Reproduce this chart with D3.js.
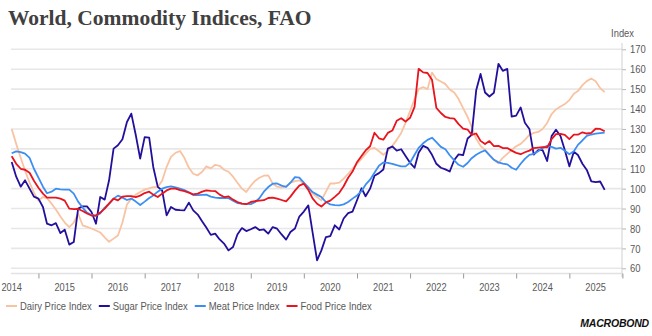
<!DOCTYPE html>
<html>
<head>
<meta charset="utf-8">
<script src="https://cdn.jsdelivr.net/npm/d3@7"></script>
<style>
  body { margin: 0; background: #fff; }
  svg { display: block; }
  .lbl { font-family: "Liberation Sans", sans-serif; fill: #595959; }
</style>
</head>
<body>
<svg id="chart" width="652" height="336"></svg>
<script>

// monthly index values, Jul 2014 .. Sep 2025 (2014-2016 = 100)
const dairy = [
  130, 122.5, 115.5, 109, 103, 98,
  94, 95.8, 95.2, 92.5, 89.5, 86, 83, 80.7, 83, 87.4, 81.6, 80.8,
  80, 79, 78, 75.5, 73.3, 74.9, 76.5, 83, 92, 95, 97, 98.3,
  99.5, 100.2, 100.8, 100.8, 104, 111, 116, 118, 118.9, 115.5, 110.5, 107.5,
  106.7, 108.5, 111.2, 110.2, 112, 111.5, 109.5, 108.5, 106, 103, 100, 98.3,
  101.5, 104, 105.5, 106.5, 106.7, 102.5, 101, 100.5, 101.2, 103, 103.8, 104.2,
  102.5, 101, 97.5, 95.8, 94.1, 98.5, 102.6, 102.6, 103, 105, 107.5, 110,
  112.6, 115, 117.5, 120, 120.5, 118.8, 117, 119, 121.5, 124.5, 128, 133,
  139, 145, 150, 151, 150, 158.3, 155, 153.8, 152.5, 149.8, 148.3, 145,
  140.5, 136, 131, 125, 121.5, 119.5, 117, 114.5, 112.8, 115.5, 117.5, 119.5,
  121.3, 122.5, 124.5, 127, 128, 128.5, 130, 133, 137.5, 139.8, 141.3, 142.5,
  144.5, 147.7, 149, 152, 154, 155.3, 154, 150.5, 148.5
];

const sugar = [
  113.4, 106, 101, 104.2, 100, 96,
  95, 90.8, 82.4, 81.6, 82.7, 77.7, 79.4, 71.9, 73.2, 90, 91.1, 91.1,
  88.3, 82.4, 95.8, 94.5, 104.2, 120.1, 121.8, 124.8, 133.5, 137.7, 126.8, 115.1,
  125.9, 125.6, 110.9, 100.9, 99.1, 86.6, 90.8, 89.4, 89.2, 89.1, 93, 89.1,
  87, 83.5, 80.5, 76.8, 77.4, 74.5, 72.4, 69, 70.7, 77, 80.2, 78.7,
  79.6, 80.7, 79.2, 79.5, 77.4, 80.7, 79.9, 77, 74.4, 78.2, 80, 86,
  88.5, 91.6, 78.2, 64, 69, 75.7, 76.2, 81.6, 79.5, 85, 87.7, 88.5,
  94.2, 100.2, 96.2, 100, 106.5, 107.8, 109.6, 120.1, 121.2, 119.1, 119.8, 116.4,
  113, 110.5, 118, 121.5, 120.5, 117, 112.5, 110.5, 109.7, 108.6, 114.4, 117.2,
  116.8, 125.2, 127, 149.4, 157.6, 148.3, 146.3, 148.2, 162.7, 159.2, 160.2, 136.2,
  136.7, 140.8, 133.1, 130, 117.1, 119.4, 119.4, 113.9, 126.4, 129.6, 126.4, 119.3,
  111.2, 118.5, 116.9, 112.5, 109.4, 103.7, 103.3, 103.6, 99.4
];

const meat = [
  117.8, 118.7, 118.3, 117.6, 115.5, 110,
  105.5, 101, 97.7, 98.5, 100, 99.6, 99.5, 99.5, 97.5, 93.5, 90.5, 88,
  86.8, 86.4, 87.5, 90.5, 92.5, 95, 96.5, 95.5, 94.3, 95, 93.5, 91.8,
  93.5, 95.3, 96.6, 98.5, 100, 100.8, 101.2, 100.6, 100, 99.3, 98.2, 96.8,
  96.8, 96.9, 97, 96, 95.5, 95.3, 95.3, 95.2, 94, 92.8, 92.5, 92.4,
  92.2, 93.3, 95.2, 98.5, 100.8, 102.5, 102.6, 101.5, 100.9, 103, 105.8, 105.5,
  103, 100.5, 98.3, 97, 95.8, 93.3, 92.1, 91.7, 91.6, 92.1, 93.3, 95,
  96.6, 98.8, 102, 104.5, 108, 111.5, 113.2, 113, 112.5, 111.8, 111.2, 111.2,
  113, 117, 120.5, 122.8, 124.5, 125.6, 123.4, 121, 119.8, 116.8, 114.2, 112,
  111, 112.9, 115.3, 117, 118.3, 119.2, 116.8, 114.5, 113.2, 112.6, 112.2, 110.5,
  109.5, 112.5, 115, 117, 117.5, 118.8, 120.5, 121.5, 121, 120.1, 120.5, 119,
  117.3, 118.8, 122, 124.3, 126.5, 127.2, 127.6, 127.9, 128.2
];

const food = [
  116.3, 112.5, 110, 109.5, 108, 104,
  100.5, 97.5, 95.5, 95.5, 95.5, 95, 94, 90, 89.7, 89.8, 88.8, 87.5,
  86.5, 86.5, 88, 90, 92.5, 95, 94.1, 96, 96.3, 96.3, 95.8, 96.5,
  97.8, 98.5, 97, 95.8, 97.5, 99.1, 100, 100, 99.3, 98.8, 98, 97.1,
  97.5, 98.5, 99.1, 98.9, 98.8, 97, 95.8, 96.1, 94.5, 93.3, 92.5, 92.2,
  93.3, 93.8, 94, 94.2, 95.3, 95.5, 95, 94.3, 93.6, 96, 99, 101.5,
  102.5, 99.4, 95.1, 92.4, 91, 93.1, 94, 95.9, 97.9, 101.2, 105.5, 108.6,
  113.3, 116.4, 119.2, 121.3, 128.1, 125.3, 124.6, 128, 129.2, 134.1, 135.4, 133.7,
  135.6, 141.1, 160.2, 158.4, 158.1, 154.7, 140.6, 138, 136, 135.4, 135.2, 132.4,
  130.2, 129.7, 127, 127.7, 124, 122.4, 123.9, 121.4, 121.5, 120.4, 120.4, 119.1,
  118, 117.3, 118.3, 119.1, 120.4, 120.6, 120.8, 120.7, 124.9, 127.4, 127.5, 127,
  124.9, 127.1, 127.1, 128.3, 127.7, 128, 130.1, 130, 128.8
];

const months = d3.timeMonth.range(new Date(2014, 6, 1), new Date(2025, 9, 1));
const years = d3.range(2014, 2026);
const yTicks = d3.range(60, 171, 10);

const seriesNames = ["Dairy Price Index", "Sugar Price Index", "Meat Price Index", "Food Price Index"];
const seriesColors = ["#f9c3a2", "#22109c", "#3d8ef2", "#e8141e"];
const seriesValues = [dairy, sugar, meat, food];


// squeeze a label horizontally so it reads like a narrow face
function condense( sel, k ){
    sel.each( function(){
        const w = this.getComputedTextLength();
        d3.select(this)
            .attr("textLength", w * k)
            .attr("lengthAdjust", "spacingAndGlyphs");
    });
}


function draw_chart(){

    const svg = d3.select("#chart");
    const left = 11, right = 622, top = 49.3, bottom = 268.3, baseY = 273.5;

    const x = d3.scaleTime()
        .domain([new Date(2014, 6, 1), new Date(2026, 0, 1)])
        .range([11.7, 622.4]);
    const y = d3.scaleLinear().domain([60, 170]).range([bottom, top]);

    // title
    svg.append("text")
        .attr("x", 8).attr("y", 25)
        .attr("font-family", "Liberation Serif, serif")
        .attr("font-weight", "bold")
        .attr("font-size", "21.5px")
        .attr("fill", "#404040")
        .text("World, Commodity Indices, FAO");

    // horizontal grid
    svg.append("g").selectAll("line")
        .data(yTicks)
        .enter().append("line")
        .attr("x1", left).attr("x2", right)
        .attr("y1", d => y(d)).attr("y2", d => y(d))
        .attr("stroke", "#e7e7e7")
        .attr("stroke-width", 1.6);

    // right value axis
    const yAxis = svg.append("g")
        .attr("transform", "translate(" + right + ",0)")
        .call(d3.axisRight(y).tickValues(yTicks).tickSize(4).tickPadding(4));
    yAxis.select(".domain").remove();
    yAxis.selectAll(".tick line").attr("stroke", "#b5b5b5");
    yAxis.selectAll(".tick text")
        .attr("class", "lbl")
        .attr("font-size", "11.5px")
        .attr("fill", "#595959")
        .call(condense, 0.82);
    svg.append("line")
        .attr("x1", right).attr("x2", right)
        .attr("y1", 43).attr("y2", 277)
        .attr("stroke", "#d0d0d0");

    svg.append("text")
        .attr("class", "lbl")
        .attr("x", 634).attr("y", 37)
        .attr("text-anchor", "end")
        .attr("font-size", "11px")
        .text("Index")
        .call(condense, 0.85);

    // time axis: ticks at year boundaries, labels centred in each year
    const xAxis = svg.append("g")
        .attr("transform", "translate(0," + baseY + ")")
        .call(d3.axisBottom(x)
            .tickValues(years.slice(1).concat([2026]).map(v => new Date(v, 0, 1)))
            .tickSize(5)
            .tickFormat(""));
    xAxis.select(".domain")
        .attr("d", "M" + left + ",0H" + right)
        .attr("stroke", "#e2e2e2")
        .attr("stroke-width", 1.5);
    xAxis.selectAll(".tick line").attr("stroke", "#9a9a9a");

    svg.append("g").selectAll("text")
        .data(years)
        .enter().append("text")
        .attr("class", "lbl")
        .attr("x", d => x(new Date(d, 6, 1)))
        .attr("y", 291)
        .attr("text-anchor", "middle")
        .attr("font-size", "11px")
        .text(d => d)
        .call(condense, 0.84);

    // series lines
    const line = d3.line()
        .x(d => x(d.date))
        .y(d => y(d.value));

    seriesValues.forEach( function(vals, i){
        const pts = vals.map( (v, k) => ({ date: months[k], value: v }) );
        svg.append("path")
            .datum(pts)
            .attr("d", line)
            .attr("fill", "none")
            .attr("stroke", seriesColors[i])
            .attr("stroke-width", 1.8)
            .attr("stroke-linejoin", "round");
    });

    // legend
    let lx = 6;
    const legend = svg.append("g");
    seriesNames.forEach( function(name, i){
        legend.append("line")
            .attr("x1", lx).attr("x2", lx + 11)
            .attr("y1", 306).attr("y2", 306)
            .attr("stroke", seriesColors[i])
            .attr("stroke-width", 2);
        const t = legend.append("text")
            .attr("class", "lbl")
            .attr("x", lx + 14).attr("y", 310)
            .attr("font-size", "11.5px")
            .text(name)
            .call(condense, 0.82);
        lx += 14 + (+t.attr("textLength")) + 7;
    });

    // source mark
    svg.append("text")
        .attr("x", 649).attr("y", 327)
        .attr("text-anchor", "end")
        .attr("font-family", "Liberation Sans, sans-serif")
        .attr("font-weight", "bold")
        .attr("font-style", "italic")
        .attr("font-size", "10.5px")
        .attr("fill", "#111")
        .attr("letter-spacing", "-0.2")
        .text("MACROBOND");
}

draw_chart();

</script>
</body>
</html>
